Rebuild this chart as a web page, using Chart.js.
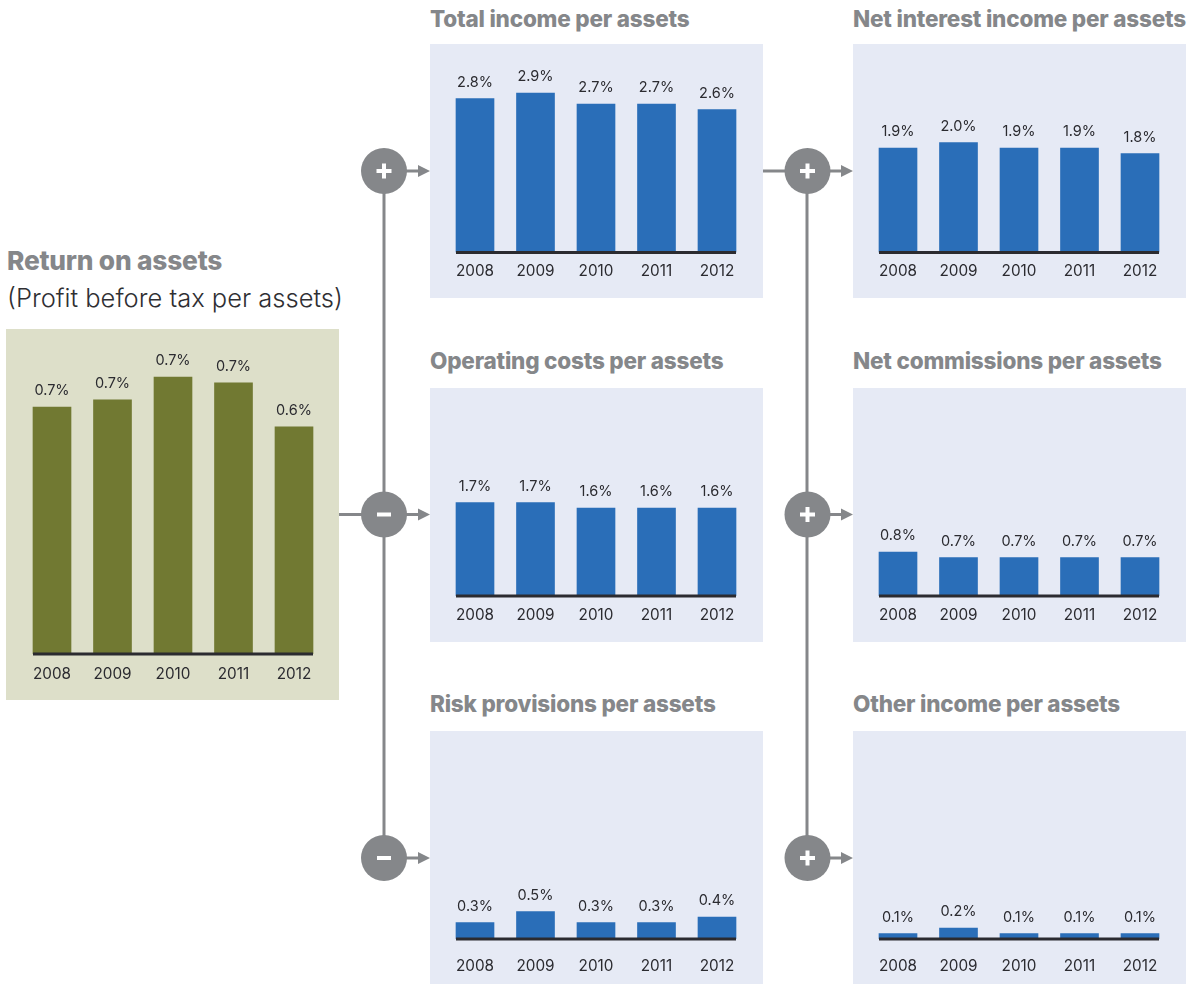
<!DOCTYPE html>
<html>
<head>
<meta charset="utf-8">
<title>Return on assets</title>
<script src="https://cdn.jsdelivr.net/npm/chart.js@4"></script>
<style>
  html, body { margin: 0; padding: 0; background: #fff; }
  body { position: relative; width: 1190px; height: 984px; overflow: hidden; font-family: Inter, sans-serif; }
  canvas { position: absolute; display: block; }
  svg { position: absolute; left: 0; top: 0; }
  .title { position: absolute; font-weight: 800; font-size: 22.5px; line-height: 26px; color: #85878a; white-space: nowrap; letter-spacing: -0.2px; }
  .big { font-size: 26.3px; line-height: 30px; }
  .sub { position: absolute; font-weight: 300; font-size: 25.5px; line-height: 30px; color: #2f2f33; white-space: nowrap; }
</style>
</head>
<body>

<svg width="1190" height="984">
  <g stroke="#85878a" stroke-width="3" fill="none">
    <path d="M384 171V858M339 514.5H420M384 171H420M384 858H420"/>
    <path d="M807 171V858M763 171H843M807 514.5H843M807 858H843"/>
  </g>
  <g fill="#85878a">
    <path d="M418 165l12 6l-12 6z M418 508.5l12 6l-12 6z M418 852l12 6l-12 6z"/>
    <path d="M841 165l12 6l-12 6z M841 508.5l12 6l-12 6z M841 852l12 6l-12 6z"/>
    <circle cx="384" cy="171" r="23"/><circle cx="384" cy="514.5" r="23"/><circle cx="384" cy="858" r="23"/>
    <circle cx="807.5" cy="171" r="23"/><circle cx="807.5" cy="514.5" r="23"/><circle cx="807.5" cy="858" r="23"/>
  </g>
  <g fill="#fff">
    <path d="M376.500 169h5.500v-5.500h4v5.500h5.500v4h-5.500v5.500h-4v-5.500h-5.500z"/>
    <path d="M377 512.500h14v4h-14z"/>
    <path d="M377 856h14v4h-14z"/>
    <path d="M800 169h5.500v-5.500h4v5.500h5.500v4h-5.500v5.500h-4v-5.500h-5.500z"/>
    <path d="M800 512.500h5.500v-5.500h4v5.500h5.500v4h-5.500v5.500h-4v-5.500h-5.500z"/>
    <path d="M800 856h5.500v-5.500h4v5.500h5.500v4h-5.500v5.500h-4v-5.500h-5.500z"/>
  </g>
</svg>

<div class="title big" style="left:7px;top:246px">Return on assets</div>
<div class="sub" style="left:7px;top:283px">(Profit before tax per assets)</div>
<div class="title" style="left:430px;top:6px">Total income per assets</div>
<div class="title" style="left:430px;top:348px">Operating costs per assets</div>
<div class="title" style="left:430px;top:691px">Risk provisions per assets</div>
<div class="title" style="left:853px;top:6px">Net interest income per assets</div>
<div class="title" style="left:853px;top:348px">Net commissions per assets</div>
<div class="title" style="left:853px;top:691px">Other income per assets</div>

<canvas id="roa" width="333" height="371" style="left:6px;top:329px;background:#dddfc9"></canvas>
<canvas id="total" width="333" height="254" style="left:430px;top:44px;background:#e6eaf5"></canvas>
<canvas id="costs" width="333" height="254" style="left:430px;top:388px;background:#e6eaf5"></canvas>
<canvas id="risk" width="333" height="253" style="left:430px;top:731px;background:#e6eaf5"></canvas>
<canvas id="interest" width="333" height="254" style="left:853px;top:44px;background:#e6eaf5"></canvas>
<canvas id="commissions" width="333" height="254" style="left:853px;top:388px;background:#e6eaf5"></canvas>
<canvas id="other" width="333" height="253" style="left:853px;top:731px;background:#e6eaf5"></canvas>

<script>
const years = ['2008', '2009', '2010', '2011', '2012'];

// return on assets is drawn at finer precision than its printed labels
const roaValues = [0.686, 0.706, 0.769, 0.753, 0.631];
const roaLabels = ['0.7%', '0.7%', '0.7%', '0.7%', '0.6%'];

const totalValues = [2.8, 2.9, 2.7, 2.7, 2.6];
const costsValues = [1.7, 1.7, 1.6, 1.6, 1.6];
const riskValues = [0.3, 0.5, 0.3, 0.3, 0.4];
const interestValues = [1.9, 2.0, 1.9, 1.9, 1.8];
const commissionsValues = [0.8, 0.7, 0.7, 0.7, 0.7];
const otherValues = [0.1, 0.2, 0.1, 0.1, 0.1];

const pct = v => v.toFixed(1) + '%';
const FAMILY = 'Inter, sans-serif';
const INK = '#2b2b30';

// value labels above the bars + the dark baseline that only runs bar to bar
const barExtras = {
  id: 'barExtras',
  afterDatasetsDraw(chart, args, opts) {
    const { ctx, scales } = chart;
    const bars = chart.getDatasetMeta(0).data;
    ctx.save();
    ctx.fillStyle = INK;
    ctx.font = `400 14.5px ${FAMILY}`;
    ctx.textAlign = 'center';
    ctx.textBaseline = 'bottom';
    bars.forEach((bar, i) => ctx.fillText(opts.labels[i], bar.x, bar.y - 9));
    const y0 = scales.y.getPixelForValue(0);
    ctx.fillRect(bars[0].x - 19, y0 - 1.5, bars[bars.length - 1].x - bars[0].x + 38, 3);
    ctx.restore();
  },
};

function drawBars(id, values, labels, color, { pxPerUnit = 55, baseline, height, tickPad = 2, padLeft = 14.75, padRight = 15.75 }) {
  return new Chart(document.getElementById(id), {
    type: 'bar',
    data: {
      labels: years,
      datasets: [{ data: values, backgroundColor: color, barThickness: 38 }],
    },
    plugins: [barExtras],
    options: {
      responsive: false,
      animation: false,
      layout: { padding: { left: padLeft, right: padRight, top: 0, bottom: 0 } },
      plugins: {
        legend: { display: false },
        tooltip: { enabled: false },
        barExtras: { labels },
      },
      scales: {
        x: {
          grid: { display: false },
          border: { display: false },
          afterFit: s => { s.height = height - baseline; },
          ticks: { color: INK, font: { family: FAMILY, size: 15.3, weight: '400' }, padding: tickPad, maxRotation: 0, autoSkip: false },
        },
        y: { display: false, min: 0, max: baseline / pxPerUnit },
      },
    },
  });
}

const BLUE = '#2a6eb8';
const OLIVE = '#717932';

drawBars('roa', roaValues, roaLabels, OLIVE, { pxPerUnit: 360, baseline: 325, height: 371, tickPad: 3, padLeft: 15.75, padRight: 14.75 });
drawBars('total', totalValues, totalValues.map(pct), BLUE, { baseline: 208.5, height: 254 });
drawBars('costs', costsValues, costsValues.map(pct), BLUE, { baseline: 208, height: 254 });
drawBars('risk', riskValues, riskValues.map(pct), BLUE, { baseline: 208, height: 253, tickPad: 10 });
drawBars('interest', interestValues, interestValues.map(pct), BLUE, { baseline: 208.5, height: 254 });
drawBars('commissions', commissionsValues, commissionsValues.map(pct), BLUE, { baseline: 208, height: 254 });
drawBars('other', otherValues, otherValues.map(pct), BLUE, { baseline: 208, height: 253, tickPad: 10 });
</script>
</body>
</html>
